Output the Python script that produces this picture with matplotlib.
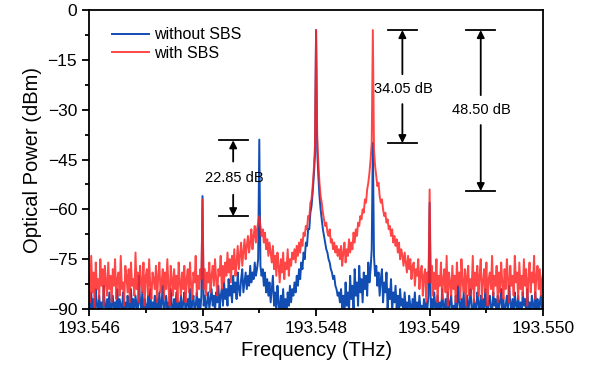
import numpy as np
import matplotlib.pyplot as plt
from matplotlib.ticker import MultipleLocator, FormatStrFormatter

plt.rcParams["font.family"] = ["Liberation Sans", "DejaVu Sans"]

# spectrum sampled every 0.00001 THz from 193.546 to 193.550 (401 points), dBm
f_start = 193.546
f_stop = 193.550

without_sbs = [
    # 193.5460 - 193.5469
    -88, -91, -85, -90, -87, -92, -84, -89, -91, -86, -90, -88, -92, -83, -89, -91, -87, -90, -85, -92,
    -89, -86, -91, -88, -90, -84, -92, -87, -89, -91, -85, -90, -88, -92, -86, -89, -91, -84, -90, -87,
    -91, -86, -89, -92, -80, -88, -90, -85, -91, -87, -89, -92, -86, -90, -84, -91, -88, -90, -86, -92,
    -87, -90, -85, -91, -88, -83, -92, -89, -86, -90, -88, -91, -84, -89, -92, -87, -90, -85, -91, -88,
    -90, -86, -92, -88, -85, -91, -89, -87, -90, -84, -92, -88, -86, -91, -89, -85, -90, -87, -91, -86,
    -56,
    -89, -86, -91, -88, -85, -90, -87, -84, -89, -86, -91, -85, -88, -83, -90, -86, -84, -89, -82,
    -87, -84, -89, -81, -86, -83, -88, -80, -85, -82, -87, -79, -84, -86, -81, -78, -85, -82, -79, -84,
    -80, -83, -77, -82, -79, -81, -76, -80, -78, -75,
    -39,
    -77, -80, -78, -83, -79, -85, -81, -86, -82, -88, -84, -80, -89, -85, -91, -83, -88, -92, -86, -90,
    -84, -91, -87, -92, -85, -89, -83, -88, -84,
    -86, -82, -85, -80, -83, -78, -81, -76, -78, -73, -75, -70, -71, -66, -66, -61, -59, -55, -50, -44,
    -6,
    -42, -50, -56, -60, -63, -66, -68, -70, -72, -73, -75, -76, -78, -79, -81, -80, -83, -84, -86, -85,
    -88, -84, -90, -86, -92, -82, -89, -85, -91, -80, -87, -83, -90, -78, -86, -82, -89, -77, -85, -81,
    -88, -79, -84, -80, -86, -76, -82, -78, -72,
    -40,
    -74, -80, -77, -83, -79, -86, -81, -78, -88, -82, -85, -79, -90, -84, -87, -81, -91, -85, -88, -83,
    -90, -86, -92, -84, -89, -87, -91, -85, -90, -88, -92, -86, -89, -91, -87, -90, -85, -92, -88, -91,
    -86, -90, -89, -92, -87, -91, -88, -90, -86,
    -58,
    -90, -87, -92, -85, -89, -91, -86, -90, -88, -92, -84, -89, -91, -87, -90, -85, -92, -88, -86, -91,
    -89, -92, -86, -90, -83, -88, -91, -87, -90, -85, -92, -89, -86, -91, -88, -84, -90, -92, -87, -89,
    -91, -85, -88, -92, -86, -90, -87, -91, -84, -89, -92, -88, -86, -90, -91, -85, -89, -87, -92, -86,
    -90, -88, -84, -91, -87, -92, -89, -86, -90, -83, -88, -91, -87, -92, -85, -89, -90, -86, -91, -88,
    -92, -85, -89, -87, -91, -84, -90, -88, -92, -86, -89, -91, -85, -90, -87, -92, -88, -86, -91, -89,
]

with_sbs = [
    -80, -88, -74, -85, -79, -90, -76, -84, -81, -87, -75, -83, -78, -89, -77, -82, -86, -76, -84, -80,
    -88, -78, -83, -75, -87, -81, -79, -86, -74, -84, -82, -89, -77, -80, -85, -78, -88, -76, -83, -81,
    -86, -73, -84, -79, -88, -77, -82, -85, -76, -89, -80, -78, -86, -75, -83, -87, -79, -81, -84, -77,
    -88, -80, -76, -85, -82, -78, -87, -79, -84, -75, -83, -89, -77, -81, -86, -78, -84, -80, -88, -76,
    -82, -86, -79, -84, -77, -88, -81, -78, -85, -76, -83, -87, -79, -82, -74, -86, -80, -84, -78, -81,
    -57,
    -84, -78, -86, -79, -82, -76, -85, -80, -77, -83, -75, -81, -86, -78, -80, -74, -84, -77, -82,
    -76, -80, -73, -79, -75, -82, -74, -78, -72, -80, -76, -71, -78, -74, -70, -77, -73, -69, -75, -71,
    -68, -73, -70, -66, -72, -68, -65, -70, -66, -64,
    -62,
    -65, -68, -66, -70, -67, -72, -69, -74, -70, -73,
    -76, -71, -78, -74, -80, -73, -77, -82, -75, -79, -73, -81, -76, -78, -72, -80, -75, -77, -73,
    -75, -72, -76, -71, -74, -70, -73, -69, -71, -67, -68, -65, -66, -62, -63, -58, -57, -53, -48, -41,
    -6,
    -38, -46, -52, -56, -58, -61, -63, -65, -64, -67, -68, -66, -70, -69, -72, -70, -73, -71, -74, -72,
    -75, -71, -77, -73, -70, -76, -72, -74, -69, -73, -70, -72, -67, -70, -66, -68, -64, -65, -62,
    -63, -60, -61, -57, -58, -54, -52, -49, -45, -40,
    -6,
    -42, -47, -50, -53, -52, -56, -58, -57, -60, -62, -61, -64, -63, -66, -65, -68, -66, -70, -68,
    -71, -69, -73, -70, -75, -72, -74, -77, -73, -76, -79, -74, -78, -75, -81, -77, -76, -83, -78, -80,
    -75, -84, -79, -77, -86, -80, -78, -88, -79, -82,
    -54,
    -82, -77, -86, -79, -84, -75, -88, -80, -83, -76, -87, -81, -78, -85, -74, -89, -79, -82, -86, -77,
    -84, -80, -88, -76, -83, -79, -87, -75, -82, -85, -78, -89, -80, -77, -86, -81, -84, -74, -88, -79,
    -83, -77, -86, -80, -75, -87, -82, -78, -85, -76, -89, -81, -79, -84, -74, -86, -80, -83, -77, -88,
    -79, -85, -76, -82, -87, -78, -84, -75, -81, -88, -77, -83, -80, -86, -74, -82, -79, -87, -76, -84,
    -80, -86, -75, -83, -78, -89, -81, -76, -85, -79, -82, -74, -87, -80, -77, -84, -78, -86, -81, -79,
]

assert len(without_sbs) == 401 and len(with_sbs) == 401
freq = np.linspace(f_start, f_stop, len(with_sbs))

# difference markers
marker_x = [193.54727, 193.54876, 193.54945]
marker_top = [-39.2, -6.0, -6.0]
marker_bottom = [-62.05, -40.05, -54.5]
marker_text = ["22.85 dB", "34.05 dB", "48.50 dB"]
marker_text_y = [-50.6, -23.8, -30.1]

fig = plt.figure(figsize=(5.93, 3.75), dpi=100)
ax = fig.add_axes([0.150, 0.176, 0.766, 0.797])

ax.plot(freq, without_sbs, color="#114db3", linewidth=1.4, label="without SBS")
ax.plot(freq, with_sbs, color="#ff2626", linewidth=1.4, alpha=0.85, label="with SBS")

half_bar = 0.000128
gap = [5.0, 4.5, 4.5]
for x, top, bot, txt, ty, g in zip(marker_x, marker_top, marker_bottom, marker_text, marker_text_y, gap):
    ax.plot([x - half_bar, x + half_bar], [top, top], color="black", linewidth=1.3)
    ax.plot([x - half_bar, x + half_bar], [bot, bot], color="black", linewidth=1.3)
    ax.annotate("", xy=(x, top), xytext=(x, ty + g),
                arrowprops=dict(arrowstyle="-|>", color="black", lw=1.3,
                                mutation_scale=11, shrinkA=0, shrinkB=0))
    ax.annotate("", xy=(x, bot), xytext=(x, ty - g),
                arrowprops=dict(arrowstyle="-|>", color="black", lw=1.3,
                                mutation_scale=11, shrinkA=0, shrinkB=0))
    ax.text(x + 0.00001, ty, txt, ha="center", va="center", fontsize=10.5)

ax.set_xlim(f_start, f_stop)
ax.set_ylim(-90, 0)
ax.xaxis.set_major_locator(MultipleLocator(0.001))
ax.xaxis.set_minor_locator(MultipleLocator(0.0005))
ax.xaxis.set_major_formatter(FormatStrFormatter("%.3f"))
ax.yaxis.set_major_locator(MultipleLocator(15))
ax.yaxis.set_minor_locator(MultipleLocator(7.5))
ax.tick_params(which="both", direction="out", top=False, right=False, labelsize=12.5, width=1.3)
ax.tick_params(which="major", length=5)
ax.tick_params(which="minor", length=3)
for spine in ax.spines.values():
    spine.set_linewidth(1.3)

ax.set_xlabel("Frequency (THz)", fontsize=14.5)
ax.set_ylabel("Optical Power (dBm)", fontsize=14.5)

ax.legend(loc="upper left", frameon=False, fontsize=11.5, handlelength=2.3,
          handletextpad=0.3, labelspacing=0.2, bbox_to_anchor=(0.02, 0.99))

fig.savefig("out.png", dpi=100)
